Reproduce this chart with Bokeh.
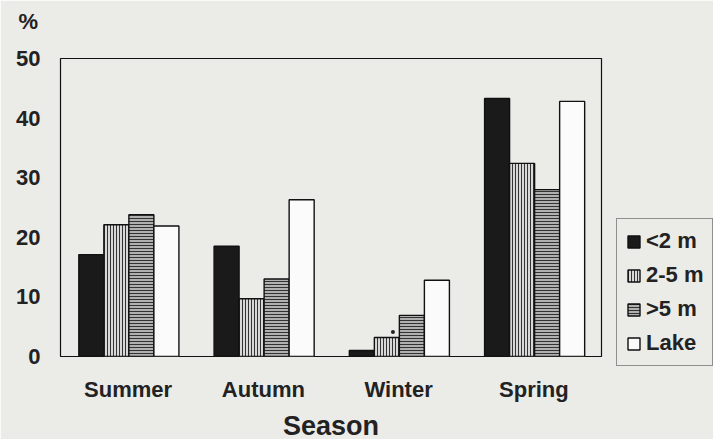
from bokeh.plotting import figure
from bokeh.models import (ColumnDataSource, Range1d, FactorRange, Legend, LegendItem,
                          Title, FixedTicker)
from bokeh.transform import dodge
from bokeh.embed import file_html
from bokeh.resources import INLINE

# ---- data ----
seasons = ["Summer", "Autumn", "Winter", "Spring"]
lt2 = [17.1, 18.5, 1.0, 43.3]      # <2 m
m2_5 = [22.1, 9.7, 3.2, 32.4]      # 2-5 m
gt5 = [23.8, 13.0, 6.9, 28.0]      # >5 m
lake = [21.9, 26.3, 12.8, 42.8]    # Lake
series_labels = ["<2 m", "2-5 m", ">5 m", "Lake"]
y_ticks = [0, 10, 20, 30, 40, 50]
sig_season = ["Winter"]            # significance dot above 2-5 m bar
sig_value = [m2_5[2]]

FONT = "Liberation Sans"
BG = "#ebebe8"
TXT = "#222222"

src = ColumnDataSource(dict(season=seasons, lt2=lt2, m2_5=m2_5, gt5=gt5, lake=lake))

p = figure(x_range=FactorRange(factors=seasons), y_range=Range1d(0, 50),
           frame_width=541, frame_height=298,
           min_border_left=60, min_border_top=58, min_border_bottom=83, min_border_right=112,
           output_backend="svg", toolbar_location=None,
           background_fill_color=BG, border_fill_color=BG)

W = 0.185
offs = [-0.272, -0.087, 0.098, 0.283]
common = dict(width=W, source=src, line_color="#111111", line_width=1.4)
r1 = p.vbar(x=dodge("season", offs[0], range=p.x_range), top="lt2",
            fill_color="#1a1a1a", **common)
r2 = p.vbar(x=dodge("season", offs[1], range=p.x_range), top="m2_5",
            fill_color="#d8d8d8", hatch_pattern="vertical_line", hatch_scale=3,
            hatch_weight=1, hatch_color="#333333", **common)
r3 = p.vbar(x=dodge("season", offs[2], range=p.x_range), top="gt5",
            fill_color="#b0b0b0", hatch_pattern="horizontal_line", hatch_scale=3,
            hatch_weight=1, hatch_color="#333333", **common)
r4 = p.vbar(x=dodge("season", offs[3], range=p.x_range), top="lake",
            fill_color="#fbfbfb", **common)

sig_src = ColumnDataSource(dict(season=sig_season, y=[v + 0.9 for v in sig_value]))
p.scatter(x=dodge("season", offs[1] + 0.045, range=p.x_range), y="y", source=sig_src,
          size=4, fill_color="#222222", line_color=None)

p.outline_line_color = "#111111"
p.outline_line_width = 1.2
p.xgrid.grid_line_color = None
p.ygrid.grid_line_color = None

for ax in (p.xaxis[0], p.yaxis[0]):
    ax.axis_line_color = None
    ax.major_tick_line_color = None
    ax.minor_tick_line_color = None
    ax.major_label_text_font = FONT
    ax.major_label_text_font_style = "bold"
    ax.major_label_text_font_size = "22px"
    ax.major_label_text_color = TXT

p.yaxis.ticker = FixedTicker(ticks=y_ticks)
p.yaxis.major_label_standoff = 14
p.xaxis.major_label_standoff = 14
p.xaxis.axis_label = "Season"
p.xaxis.axis_label_text_font = FONT
p.xaxis.axis_label_text_font_style = "bold"
p.xaxis.axis_label_text_font_size = "27px"
p.xaxis.axis_label_text_color = TXT
p.xaxis.axis_label_standoff = 6

# spacer title (nearest the frame) and the "%" unit label above it
p.add_layout(Title(text=" ", standoff=10, text_font_size="10px",
                   text_color=BG), "above")
p.add_layout(Title(text="%", align="left", offset=-42, standoff=0, vertical_align="top",
                   text_font=FONT, text_font_style="bold", text_font_size="22px",
                   text_color=TXT), "above")

legend = Legend(items=[LegendItem(label=l, renderers=[r]) for l, r in
                       zip(series_labels, [r1, r2, r3, r4])],
                location=(15, -10), orientation="vertical",
                label_text_font=FONT, label_text_font_style="bold",
                label_text_font_size="22px", label_text_color=TXT,
                glyph_width=15, glyph_height=15, label_height=24, label_standoff=5,
                spacing=8, padding=9, margin=0,
                border_line_color="#333333", border_line_width=1.2,
                background_fill_color=BG, background_fill_alpha=1.0)
p.add_layout(legend, "right")

open("out.html", "w").write(file_html(p, INLINE))
